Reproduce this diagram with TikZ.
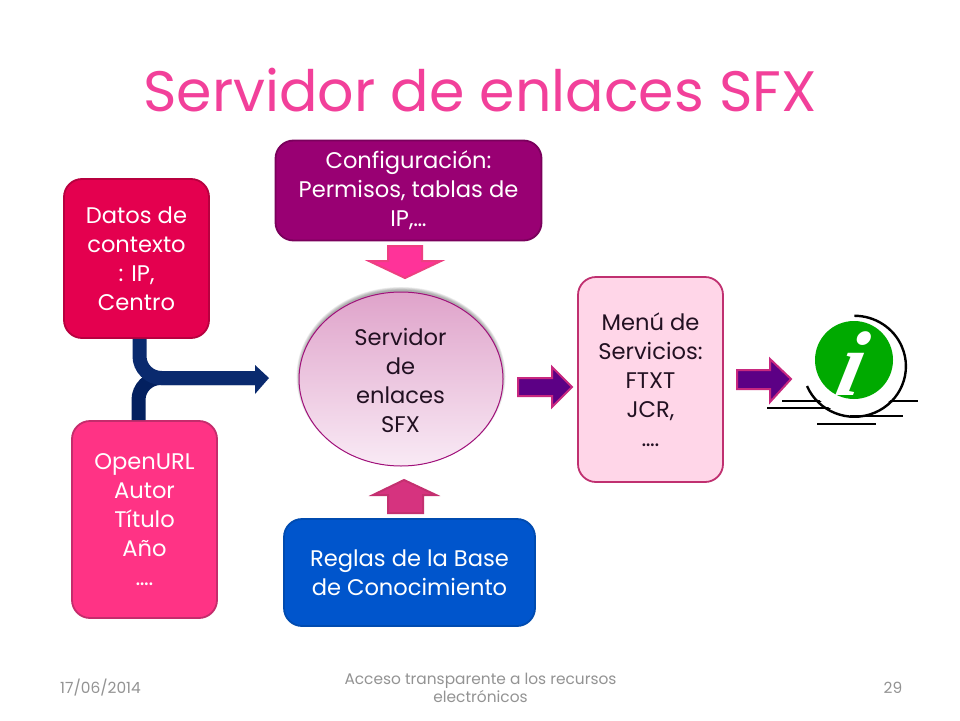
\documentclass[tikz,border=0pt]{standalone}
\usepackage{fontspec}
\setmainfont{Poppins}
\newfontfamily\iconfont{Liberation Serif}
\usetikzlibrary{calc}
\definecolor{titlepink}{HTML}{F2409A}
\definecolor{navy}{HTML}{0A2A6E}
\definecolor{navydark}{HTML}{03205F}
\definecolor{cfgfill}{HTML}{990073}
\definecolor{cfgline}{HTML}{7A005C}
\definecolor{datfill}{HTML}{E4004F}
\definecolor{datline}{HTML}{B8003F}
\definecolor{urlfill}{HTML}{FF3385}
\definecolor{urlline}{HTML}{C42C6C}
\definecolor{regfill}{HTML}{0055CC}
\definecolor{regline}{HTML}{004BB0}
\definecolor{menfill}{HTML}{FFD6E8}
\definecolor{menline}{HTML}{C03070}
\definecolor{elltop}{HTML}{DFA3CA}
\definecolor{ellbot}{HTML}{F9EAF5}
\definecolor{ellline}{HTML}{A0107A}
\definecolor{arrpink}{HTML}{FF3399}
\definecolor{arrpinkl}{HTML}{EE3F82}
\definecolor{arrrose}{HTML}{D6337F}
\definecolor{arrrosel}{HTML}{C43070}
\definecolor{arrviolet}{HTML}{5C0085}
\definecolor{arrvioletl}{HTML}{C8287F}
\definecolor{infogreen}{HTML}{00AA00}
\definecolor{txtdark}{HTML}{221122}
\tikzset{
 x=1pt,y=-1pt,
 boxn/.style={draw=#1,line width=1.8pt,rounded corners=18pt,align=center,inner sep=0pt,font=\fontsize{22.6}{29}\selectfont},
 blockarr/.style={line width=2pt,line join=miter},
 ftr/.style={text=gray!85,font=\fontsize{15.4}{18}\selectfont,align=center},
 elbow/.style={line width=14pt,rounded corners=22pt},
 iconline/.style={line width=2.4pt}
}
\begin{document}
\begin{tikzpicture}
\useasboundingbox (0,0) rectangle (960,720);
\fill[white] (0,0) rectangle (960,720);
\node[text=titlepink,font=\fontsize{57}{60}\selectfont] (title) at (480,90) {Servidor de enlaces SFX};
% boxes
\node[boxn=cfgline,fill=cfgfill,text=white,minimum width=266pt,minimum height=100pt] (config) at (408.5,190.5) {Configuración:\\Permisos, tablas de\\IP,…};
\node[boxn=datline,fill=datfill,text=white,minimum width=145pt,minimum height=159pt] (datos) at (136.5,258.5) {Datos de\\contexto\\: IP,\\Centro};
\node[boxn=urlline,fill=urlfill,text=white,minimum width=145pt,minimum height=197pt] (openurl) at (144.5,519.5) {OpenURL\\Autor\\Título\\Año\\….};
\node[boxn=regline,fill=regfill,text=white,minimum width=251pt,minimum height=107pt] (reglas) at (409.5,572.5) {Reglas de la Base\\de Conocimiento};
\node[boxn=menline,fill=menfill,text=txtdark,minimum width=145pt,minimum height=205pt] (menu) at (650.5,379.5) {Menú de\\Servicios:\\FTXT\\JCR,\\….};
% ellipse
\foreach \g in {5,4,3,2,1}{
 \fill[black,opacity=.07] (401,376.5) ellipse [x radius=101+\g*0.7,y radius=86+\g*0.7];
}
\shade[top color=elltop,bottom color=ellbot,draw=ellline,line width=1pt] (401,379) ellipse [x radius=102,y radius=87];
\node[align=center,text=txtdark,font=\fontsize{22.6}{29}\selectfont] (server) at (400.5,380) {Servidor\\de\\enlaces\\SFX};
% elbows
\draw[elbow,draw=navydark] (openurl.north -| 138.5,0) -- (138.5,378) -- (258,378);
\draw[elbow,draw=navy] (datos.south -| 139.5,0) -- (139.5,378) -- (258,378);
\fill[navy] (255,365) -- (269,378) -- (255,394) -- cycle;
% block arrows
\draw[blockarr,draw=arrpinkl,fill=arrpink] (388,246) -- (422,246) -- (422,261) -- (441,261) -- (405,278) -- (369,261) -- (388,261) -- cycle;
\draw[blockarr,draw=arrrosel,fill=arrrose] (388,513) -- (423,513) -- (423,495) -- (436,495) -- (404,480) -- (373,495) -- (388,495) -- cycle;
\draw[blockarr,draw=arrvioletl,fill=arrviolet] (518,378) -- (552,378) -- (552,367) -- (572,387) -- (552,407) -- (552,396) -- (518,396) -- cycle;
\draw[blockarr,draw=arrvioletl,fill=arrviolet] (737,370) -- (770,370) -- (770,359) -- (791,379) -- (770,402) -- (770,389) -- (737,389) -- cycle;
% icon
\draw[iconline] (782,401) -- (918,401);
\draw[iconline] (767,408) -- (840,408);
\draw[iconline] (850,416) -- (903,416);
\draw[iconline] (817,424) -- (876,424);
\fill[white] (855,366) circle (49);
\draw[iconline] (807,386) arc [start angle=157,end angle=-90,x radius=51.5,y radius=50.5];
\fill[infogreen] (854,360) circle (39);
\node[shift={(853,364)},xslant=.22,transform shape,text=white,inner sep=0pt,font=\iconfont\bfseries\itshape\fontsize{92}{92}\selectfont] (info) at (0,0) {i};
% footer
\node[ftr] (fecha) at (100.5,688) {17/06/2014};
\node[ftr] (pie) at (480.5,688) {Acceso transparente a los recursos\\electrónicos};
\node[ftr] (num) at (893,688) {29};
\end{tikzpicture}
\end{document}
